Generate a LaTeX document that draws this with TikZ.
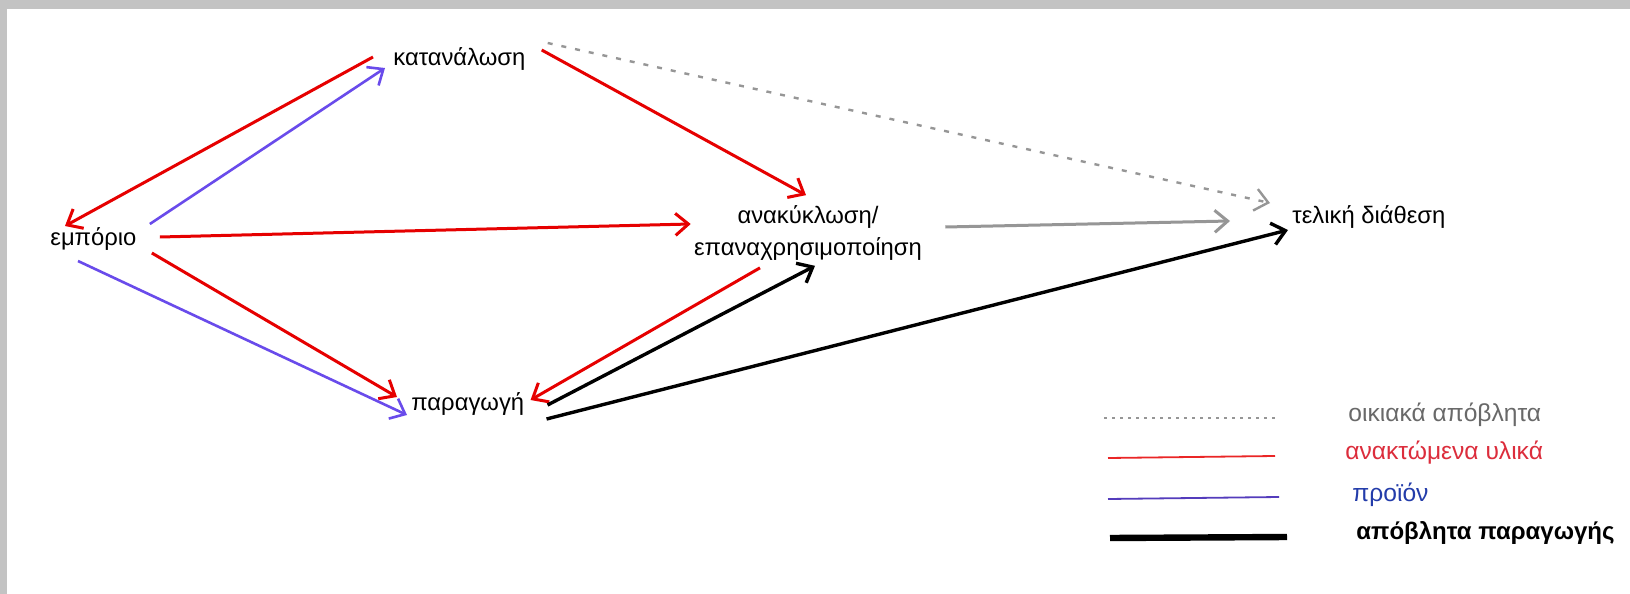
\documentclass[tikz,border=0pt]{standalone}
\usepackage{fontspec}
\setmainfont{Liberation Sans}
\usetikzlibrary{arrows.meta}
\definecolor{recred}{RGB}{230,0,0}
\definecolor{prodblue}{RGB}{105,75,235}
\definecolor{wastegray}{RGB}{150,150,150}
\definecolor{legendgray}{RGB}{105,105,105}
\definecolor{legendred}{RGB}{220,45,60}
\definecolor{legendblue}{RGB}{35,60,170}
\definecolor{framegray}{RGB}{195,195,195}

\begin{document}
\begin{tikzpicture}[x=0.5pt, y=-0.5pt,
        place/.style={inner sep=0pt, font=\fontsize{11.9}{14}\selectfont},
        tip/.style={-{Straight Barb[length=6.5pt,width=11pt]}},
        recov/.style={tip, recred, line width=1.5pt},
        prod/.style={tip, prodblue, line width=1.3pt},
        waste/.style={tip, black, line width=1.7pt},
        house/.style={tip, wastegray, line width=1.2pt, dash pattern=on 2.5pt off 4.5pt},
        rest/.style={tip, wastegray, line width=1.5pt}]
        % frame
        \fill [white] (0, 0) rectangle (1630, 594);
        \fill [framegray] (0, 0) rectangle (1630, 9);
        \fill [framegray] (0, 0) rectangle (7, 594);
        % stations
        \node [place, anchor=west] (kat) at (393, 59) {κατανάλωση};
        \node [place, anchor=west] (emp) at (50, 239) {εμπόριο};
        \node [place, anchor=west] (par) at (411, 404) {παραγωγή};
        \node [place, align=center] (ana) at (808, 233) {ανακύκλωση/\\[2pt]επαναχρησιμοποίηση};
        \node [place, anchor=west] (tel) at (1292, 217) {τελική διάθεση};
        % flows
        \draw [recov] ([shift={(-20, -2)}]kat.west) -- ([shift={(15, -13)}]emp.west);
        \draw [prod] ([shift={(13, -15)}]emp.east) -- ([shift={(-8, 9)}]kat.west);
        \draw [recov] ([shift={(23, -2)}]emp.east) -- ([shift={(-3, -9)}]ana.west);
        \draw [recov] ([shift={(15, 14)}]emp.east) -- ([shift={(-14, -7)}]par.west);
        \draw [prod] ([shift={(28, 22)}]emp.west) -- ([shift={(-4, 11)}]par.west);
        \draw [recov] ([shift={(16, -9)}]kat.east) -- ([shift={(-2, -10)}]ana.north);
        \draw [house] ([shift={(22, -16)}]kat.east) -- ([shift={(-22, -14)}]tel.west);
        \draw [rest] ([shift={(23, -6)}]ana.east) -- ([shift={(-62, 4)}]tel.west);
        \draw [recov] ([shift={(-48, 7)}]ana.south) -- ([shift={(6, -4)}]par.east);
        \draw [waste] ([shift={(23, 1)}]par.east) -- ([shift={(7, 5)}]ana.south);
        \draw [waste] ([shift={(22, 15)}]par.east) -- ([shift={(-4, 13)}]tel.west);
        % legend
        \draw [wastegray, line width=0.6pt, dash pattern=on 1.5pt off 2.5pt] (1104, 418) -- (1277, 418);
        \draw [recred!85!white, line width=0.9pt] (1108, 458) -- (1275, 456);
        \draw [prodblue!80!black, line width=0.9pt] (1108, 499) -- (1279, 497);
        \draw [black, line width=3.2pt] (1110, 538) -- (1287, 537);
        \node [place, anchor=west, font=\fontsize{12.3}{14}\selectfont, legendgray] (lg1) at (1348, 415) {οικιακά απόβλητα};
        \node [place, anchor=west, font=\fontsize{12.3}{14}\selectfont, legendred] (lg2) at (1345, 453) {ανακτώμενα υλικά};
        \node [place, anchor=west, font=\fontsize{12.3}{14}\selectfont, legendblue] (lg3) at (1352, 495) {προϊόν};
        \node [place, anchor=west, font=\fontsize{12}{14}\selectfont\bfseries] (lg4) at (1356, 533) {απόβλητα παραγωγής};
    \end{tikzpicture}
\end{document}
